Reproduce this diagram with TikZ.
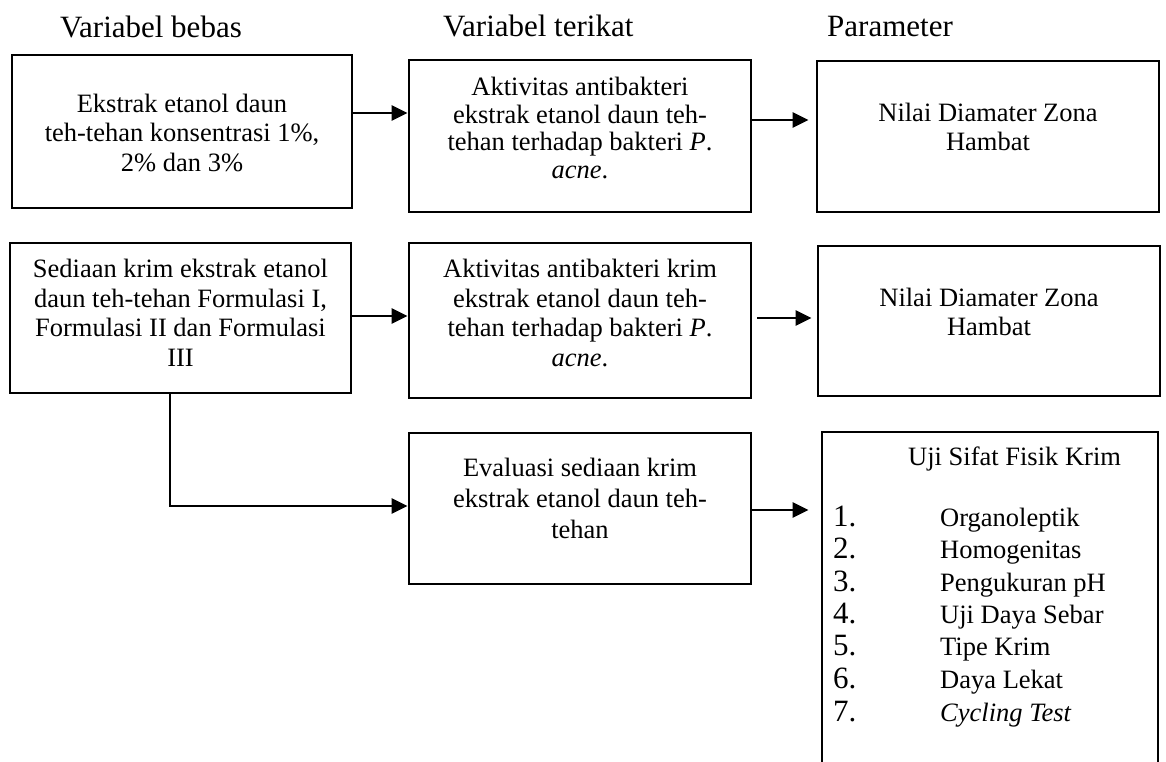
\documentclass[tikz,border=0pt]{standalone}
\usepackage{fontspec}
\setmainfont{Liberation Serif}
\usetikzlibrary{arrows.meta}
\begin{document}
\begin{tikzpicture}[x=1pt,y=-1pt,
  box/.style={draw, line width=2.8pt, inner sep=0pt, rectangle},
  txt/.style={align=center, inner sep=0pt, font=\fontsize{26.5}{29.5}\selectfont,
    execute at begin node=\strut, execute at end node=\strut},
  head/.style={anchor=base west, inner sep=0pt, font=\fontsize{31}{36}\selectfont},
  num/.style={anchor=base west, inner sep=0pt, font=\fontsize{31}{34}\selectfont},
  item/.style={anchor=base west, inner sep=0pt, font=\fontsize{26.5}{30}\selectfont},
  arr/.style={line width=2.6pt, -{Triangle[length=16pt,width=15pt]}}
]
\useasboundingbox (0,0) rectangle (1166,762);
\clip (0,0) rectangle (1166,762);

% headings
\node[head] (h1) at (60,38) {Variabel bebas};
\node[head] (h2) at (443,37) {Variabel terikat};
\node[head] (h3) at (827,37) {Parameter};

% boxes
\node[box, minimum width=340pt, minimum height=153pt] (b1) at (182,131.5) {};
\node[box, minimum width=342pt, minimum height=152pt] (b2) at (580,136) {};
\node[box, minimum width=342pt, minimum height=151pt] (b3) at (988,136.5) {};
\node[box, minimum width=341pt, minimum height=150pt] (b4) at (180.5,318) {};
\node[box, minimum width=342pt, minimum height=155pt] (b5) at (580,320.5) {};
\node[box, minimum width=342pt, minimum height=150pt] (b6) at (989,321) {};
\node[box, minimum width=342pt, minimum height=151pt] (b7) at (580,508.5) {};
\node[box, minimum width=336pt, minimum height=368pt] (b8) at (990,616) {};

% box texts
\node[txt] (t1) at (182,137) {Ekstrak etanol daun\\teh-tehan konsentrasi 1\%,\\2\% dan 3\%};
\node[txt, font=\fontsize{26.5}{27.5}\selectfont] (t2) at (580,132) {Aktivitas antibakteri\\ekstrak etanol daun teh-\\tehan terhadap bakteri \textit{P}.\\\textit{acne}.};
\node[txt] (t3) at (988,131) {Nilai Diamater Zona\\Hambat};
\node[txt] (t4) at (180.5,317) {Sediaan krim ekstrak etanol\\daun teh-tehan Formulasi I,\\Formulasi II dan Formulasi\\III};
\node[txt] (t5) at (580,317) {Aktivitas antibakteri krim\\ekstrak etanol daun teh-\\tehan terhadap bakteri \textit{P}.\\\textit{acne}.};
\node[txt] (t6) at (989,316) {Nilai Diamater Zona\\Hambat};
\node[txt, font=\fontsize{26.5}{31}\selectfont] (t7) at (580,503) {Evaluasi sediaan krim\\ekstrak etanol daun teh-\\tehan};

% list in box 8
\node[item] (u0) at (908,465) {Uji Sifat Fisik Krim};
\foreach \n/\t/\y in {1/Organoleptik/526, 2/Homogenitas/558, 3/Pengukuran pH/591,
  4/Uji Daya Sebar/623, 5/Tipe Krim/655, 6/Daya Lekat/688, 7/\textit{Cycling Test}/721}{
  \node[num] (n\n) at (833,\y) {\n.};
  \node[item] (u\n) at (940,\y) {\t};
}

% connectors
\coordinate (y1) at (0,113);
\coordinate (y2) at (0,120);
\coordinate (y3) at (0,316);
\coordinate (y4) at (0,318);
\coordinate (c5) at (170,506);
\coordinate (y6) at (0,510);

\draw[arr] (b1.east |- y1) -- (b2.west |- y1);
\draw[arr, shorten >=7pt] (b2.east |- y2) -- (b3.west |- y2);
\draw[arr] (b4.east |- y3) -- (b5.west |- y3);
\draw[arr, shorten <=5pt, shorten >=5pt] (b5.east |- y4) -- (b6.west |- y4);
\draw[arr] (c5 |- b4.south) -- (c5) -- (c5 -| b7.west);
\draw[arr, shorten >=12pt] (b7.east |- y6) -- (b8.west |- y6);
\end{tikzpicture}
\end{document}
